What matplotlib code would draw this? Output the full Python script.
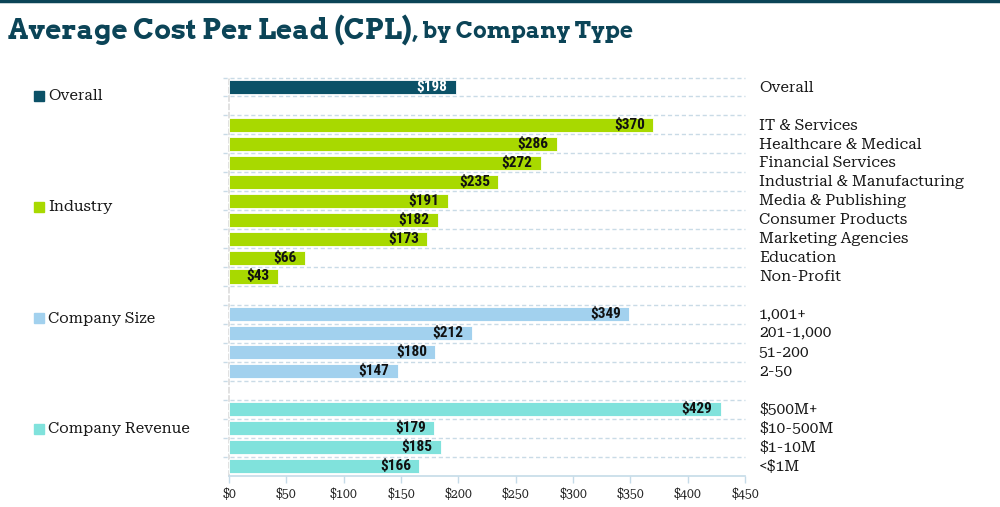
import matplotlib
matplotlib.use("Agg")
import matplotlib.pyplot as plt
from matplotlib.patches import Rectangle
from matplotlib.lines import Line2D

# data
overall_labels = ["Overall"]
overall_values = [198]
industry_labels = ["IT & Services", "Healthcare & Medical", "Financial Services",
                   "Industrial & Manufacturing", "Media & Publishing", "Consumer Products",
                   "Marketing Agencies", "Education", "Non-Profit"]
industry_values = [370, 286, 272, 235, 191, 182, 173, 66, 43]
size_labels = ["1,001+", "201-1,000", "51-200", "2-50"]
size_values = [349, 212, 180, 147]
revenue_labels = ["$500M+", "$10-500M", "$1-10M", "<$1M"]
revenue_values = [429, 179, 185, 166]

groups = ["Overall", "Industry", "Company Size", "Company Revenue"]
colors = ["#0b5167", "#a8d900", "#a2d1ee", "#80e2dc"]
xticks = [0, 50, 100, 150, 200, 250, 300, 350, 400, 450]

serif = "Roboto Serif"
cond = "Roboto Condensed"
title_font = "Arvo"

W, H = 1000, 507
fig = plt.figure(figsize=(W / 100, H / 100), dpi=100)

# axes placed in pixels
left, right, top, bottom = 229, 745, 77.5, 475.5
ax = fig.add_axes([left / W, 1 - bottom / H, (right - left) / W, (bottom - top) / H])

all_sets = [(overall_labels, overall_values), (industry_labels, industry_values),
            (size_labels, size_values), (revenue_labels, revenue_values)]

grid_c = "#c9dbe6"
y = 0
for gi, (labs, vals) in enumerate(all_sets):
    ys = list(range(y, y + len(vals)))
    ax.barh(ys, vals, height=0.74, color=colors[gi], edgecolor="white", linewidth=0.6, zorder=3)
    for yy, v, lab in zip(ys, vals, labs):
        ax.annotate(f"${v}", (v, yy), xytext=(-6, 0), textcoords="offset points",
                    ha="right", va="center", fontsize=11, fontweight="bold",
                    family=cond, color="white" if gi == 0 else "#111111",
                    zorder=4, parse_math=False)
        ax.annotate(lab, (1, yy), xycoords=("axes fraction", "data"), xytext=(10, -0.5),
                    textcoords="offset points", ha="left", va="center",
                    fontsize=11.2, family=serif, color="#1a1a1a",
                    annotation_clip=False, parse_math=False)
    y += len(vals) + 1

n_rows = y - 1
ax.set_ylim(n_rows - 0.5, -0.5)
ax.set_xlim(0, 450)

# dashed row separators
for b in range(0, n_rows):
    yb = b - 0.5
    ax.plot([-0.012, 1.0], [yb, yb], transform=ax.get_yaxis_transform(),
            color=grid_c, lw=1, ls=(0, (3, 2)), clip_on=False, zorder=1)

for s in ["top", "right"]:
    ax.spines[s].set_visible(False)
ax.spines["left"].set_color("#dcdcdc")
ax.spines["left"].set_linestyle((0, (3, 2)))
ax.spines["left"].set_linewidth(1.2)
ax.spines["bottom"].set_color("#c5dbe8")
ax.spines["bottom"].set_linewidth(1.2)

ax.set_yticks([])
ax.set_xticks(xticks)
ax.set_xticklabels([f"${t}" for t in xticks])
ax.tick_params(axis="x", length=5, color="#c5dbe8", width=1, pad=4,
               labelsize=9, labelcolor="#222222")
for t in ax.get_xticklabels():
    t.set_family(serif)

# left legend
leg_y = [96, 207, 318, 429]
for g, c, py in zip(groups, colors, leg_y):
    fig.patches.append(Rectangle((34 / W, 1 - (py + 5) / H), 10 / W, 10 / H,
                                 transform=fig.transFigure, color=c))
    fig.text(48 / W, 1 - (py + 0.5) / H, g, ha="left", va="center", fontsize=11.2,
             family=serif, color="#1a1a1a")

# top rule and title
fig.add_artist(Line2D([0, 1], [1 - 1 / H, 1 - 1 / H], transform=fig.transFigure,
                      color="#0b4457", lw=2.5))
t1 = fig.text(8 / W, 1 - 30 / H, "Average Cost Per Lead (CPL)", ha="left", va="center",
              fontsize=20, fontweight="bold", family=title_font, color="#0b4457")
fig.canvas.draw()
bb = t1.get_window_extent()
fig.text(bb.x1 / W, 1 - 32 / H, ", by Company Type", ha="left", va="center",
         fontsize=16.5, fontweight="bold", family=title_font, color="#0b4457")

fig.savefig("out.png", dpi=100)
